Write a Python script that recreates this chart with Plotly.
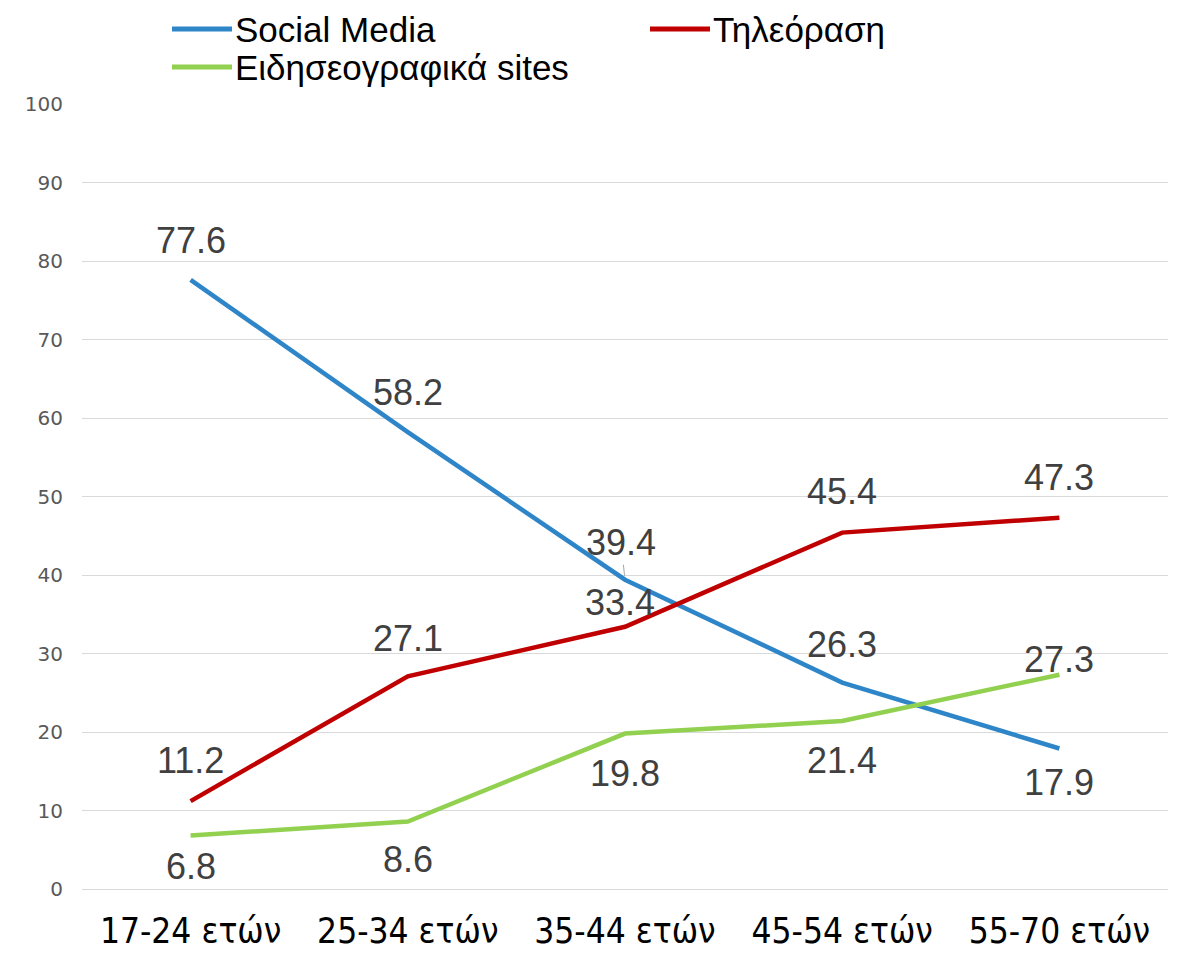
import plotly.graph_objects as go

# categories and series
age_groups = ["17-24 ετών", "25-34 ετών", "35-44 ετών", "45-54 ετών", "55-70 ετών"]
social_media = [77.6, 58.2, 39.4, 26.3, 17.9]
tv = [11.2, 27.1, 33.4, 45.4, 47.3]
news_sites = [6.8, 8.6, 19.8, 21.4, 27.3]

# label offsets in px (positive = above the point)
social_shift = [39, 40, 37, 38, -34]
tv_shift = [41, 38, 24, 41, 40]
sites_shift = [-31, -38, -40, -39, 15]

series = [
    ("Social Media", social_media, "#2E86C8", social_shift),
    ("Τηλεόραση", tv, "#C00000", tv_shift),
    ("Ειδησεογραφικά sites", news_sites, "#92D050", sites_shift),
]

W, H = 1178, 954
OFF = 8  # page body margin
L, R, T, B = 82 - OFF, 18, 104 - OFF, 73
pw, ph = W - L - R, H - T - B


def paper(px, py):
    '''screen pixel position -> paper coords'''
    return (px - OFF - L) / pw, (H - B - (py - OFF)) / ph


# legend slots (line start px, row centre px) as seen on screen
legend_pos = [(172, 29), (650, 29), (172, 67)]

fig = go.Figure()
annotations = []
shapes = []
for (name, vals, color, shifts), (lx, ly) in zip(series, legend_pos):
    fig.add_trace(go.Scatter(x=age_groups, y=vals, name=name, mode="lines",
                             line=dict(color=color, width=4.5), showlegend=False))
    for cat, v, s in zip(age_groups, vals, shifts):
        xs = -5 if (name == "Τηλεόραση" and cat == "35-44 ετών") else 0
        annotations.append(dict(x=cat, y=v, text=f"{v:.1f}", showarrow=False,
                                yshift=s, xshift=xs,
                                font=dict(size=36, color="#404040",
                                          family="Liberation Sans, Arial, sans-serif")))
    # hand made legend entry
    x0, y0 = paper(lx, ly)
    x1, _ = paper(lx + 60, ly)
    shapes.append(dict(type="line", xref="paper", yref="paper", x0=x0, x1=x1, y0=y0, y1=y0,
                       line=dict(color=color, width=5)))
    tx, _ = paper(lx + 61, ly)
    annotations.append(dict(xref="paper", yref="paper", x=tx, y=y0, text=name,
                            showarrow=False, xanchor="left", yanchor="middle",
                            font=dict(size=35, color="black",
                                      family="Liberation Sans, Arial, sans-serif")))

# the leader line under the 39.4 label
annotations[2].update(showarrow=True, arrowhead=0, arrowwidth=1, arrowcolor="#a6a6a6",
                      ax=-4, ay=-37, standoff=4, yshift=0)

fig.update_layout(
    width=W, height=H,
    margin=dict(l=L, r=R, t=T, b=B, autoexpand=False),
    plot_bgcolor="white", paper_bgcolor="white",
    annotations=annotations, shapes=shapes,
    showlegend=False,
    xaxis=dict(range=[-0.5, 4.5], showgrid=False, showline=False, ticks="", automargin=False,
               ticklabelstandoff=18,
               tickfont=dict(size=35, color="black",
                             family="Liberation Sans Narrow, DejaVu Sans Condensed, sans-serif")),
    yaxis=dict(range=[0, 100], dtick=10, showgrid=True, gridcolor="#d9d9d9", gridwidth=1,
               zeroline=True, zerolinecolor="#d9d9d9", zerolinewidth=1, automargin=False,
               ticks="", ticklabelstandoff=18,
               tickfont=dict(size=20, color="#595959",
                             family="DejaVu Sans, sans-serif")),
)

fig.write_html("out.html")
